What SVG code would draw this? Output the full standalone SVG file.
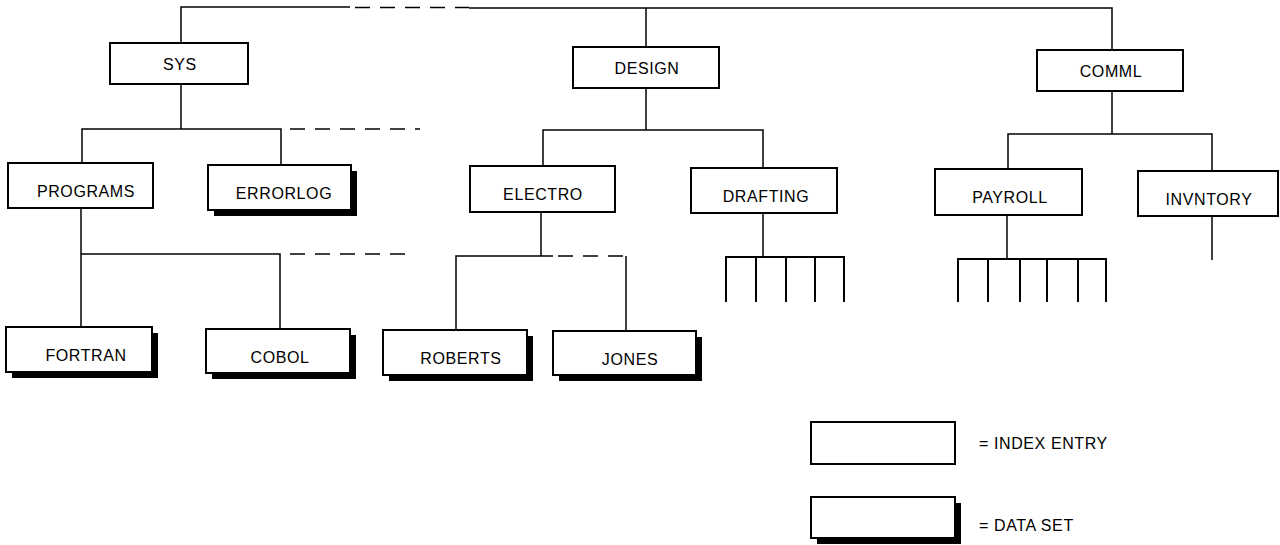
<svg xmlns="http://www.w3.org/2000/svg" width="1280" height="545" viewBox="0 0 1280 545">
<style>
.box{fill:#fff;stroke:#000;stroke-width:2}
.sh{fill:#000}
.lbl{font-family:"Liberation Sans",Arial,sans-serif;font-size:16px;letter-spacing:0.6px;fill:#000;text-anchor:middle}
.leg{font-family:"Liberation Sans",Arial,sans-serif;font-size:16px;letter-spacing:0.6px;fill:#000}
.ln{fill:none;stroke:#000;stroke-width:1.5}
.dash{fill:none;stroke:#000;stroke-width:1.5;stroke-dasharray:15 10}
.comb{fill:none;stroke:#000;stroke-width:2}
</style>
<rect width="1280" height="545" fill="#fff"/>
<g id="connectors">
<path class="ln" d="M181 43 V7 H350"/>
<path class="dash" d="M355 7.5 H469"/>
<path class="ln" d="M469 8 H1112 V50"/>
<path class="ln" d="M646 8 V47"/>
<path class="ln" d="M181 84 V129"/>
<path class="ln" d="M82 163 V129 H281 V165"/>
<path class="dash" d="M290 129 H420"/>
<path class="ln" d="M81 208 V327"/>
<path class="ln" d="M81 254 H280 V329"/>
<path class="dash" d="M290 254 H413"/>
<path class="ln" d="M646 88 V130"/>
<path class="ln" d="M543 166 V130 H763 V168"/>
<path class="ln" d="M541 212 V256"/>
<path class="ln" d="M456 330 V256 H553"/>
<path class="dash" d="M558 256 H626"/>
<path class="ln" d="M626 256 V331"/>
<path class="ln" d="M763 213 V257"/>
<path class="comb" d="M726 302 V257 H844 V302 M756 257 V302 M786 257 V302 M815 257 V302"/>
<path class="ln" d="M1112 91 V134"/>
<path class="ln" d="M1008 169 V134 H1212 V171"/>
<path class="ln" d="M1007 215 V259"/>
<path class="comb" d="M958 302 V259 H1106 V302 M988 259 V302 M1020 259 V302 M1047 259 V302 M1078 259 V302"/>
<path class="ln" d="M1212 216 V260"/>
</g>
<g id="sys"><rect class="box" x="110" y="43" width="138" height="41"/><text class="lbl" x="180" y="70">SYS</text></g>
<g id="design"><rect class="box" x="573" y="47" width="146" height="41"/><text class="lbl" x="647" y="74">DESIGN</text></g>
<g id="comml"><rect class="box" x="1037" y="50" width="146" height="41"/><text class="lbl" x="1111" y="77">COMML</text></g>
<g id="programs"><rect class="box" x="8" y="163" width="145" height="45"/><text class="lbl" x="86" y="197">PROGRAMS</text></g>
<g id="errorlog"><rect class="sh" x="214" y="171" width="143" height="45"/><rect class="box" x="208" y="165" width="143" height="45"/><text class="lbl" x="284" y="199">ERRORLOG</text></g>
<g id="electro"><rect class="box" x="470" y="166" width="145" height="46"/><text class="lbl" x="543" y="200">ELECTRO</text></g>
<g id="drafting"><rect class="box" x="691" y="168" width="146" height="45"/><text class="lbl" x="766" y="202">DRAFTING</text></g>
<g id="payroll"><rect class="box" x="935" y="169" width="147" height="46"/><text class="lbl" x="1010" y="203">PAYROLL</text></g>
<g id="invntory"><rect class="box" x="1138" y="171" width="140" height="45"/><text class="lbl" x="1209" y="205">INVNTORY</text></g>
<g id="fortran"><rect class="sh" x="12" y="333" width="146" height="45"/><rect class="box" x="6" y="327" width="146" height="45"/><text class="lbl" x="86" y="361">FORTRAN</text></g>
<g id="cobol"><rect class="sh" x="212" y="335" width="144" height="44"/><rect class="box" x="206" y="329" width="144" height="44"/><text class="lbl" x="280" y="363">COBOL</text></g>
<g id="roberts"><rect class="sh" x="389" y="336" width="144" height="45"/><rect class="box" x="383" y="330" width="144" height="45"/><text class="lbl" x="461" y="364">ROBERTS</text></g>
<g id="jones"><rect class="sh" x="559" y="337" width="143" height="44"/><rect class="box" x="553" y="331" width="143" height="44"/><text class="lbl" x="630" y="365">JONES</text></g>
<g id="legend-index"><rect class="box" x="811" y="422" width="144" height="42"/><text class="leg" x="979" y="449">= INDEX ENTRY</text></g>
<g id="legend-dataset"><rect class="sh" x="817" y="503" width="144" height="41"/><rect class="box" x="811" y="497" width="144" height="41"/><text class="leg" x="979" y="531">= DATA SET</text></g>
</svg>
